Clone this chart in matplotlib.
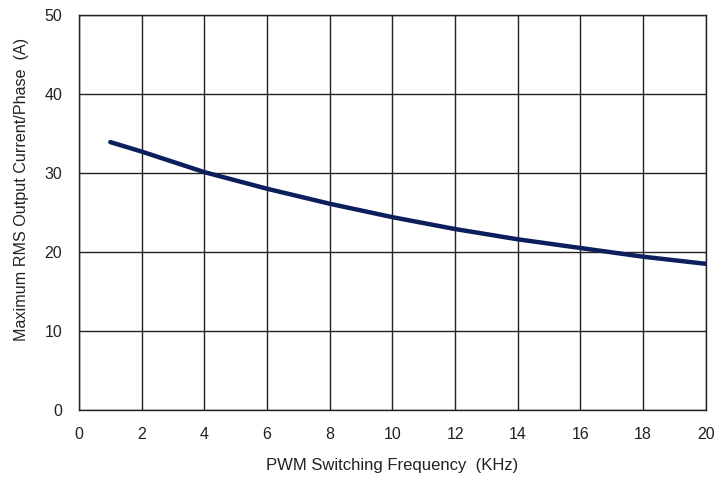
import numpy as np
import matplotlib
matplotlib.use("Agg")
import matplotlib.pyplot as plt

plt.rcParams["font.family"] = ["Liberation Sans", "DejaVu Sans"]

# 读取图上的数据点
freq_khz = [1, 2, 4, 6, 8, 10, 12, 14, 16, 18, 20]
current_a = [33.9, 32.7, 30.1, 28.0, 26.1, 24.4, 22.9, 21.6, 20.5, 19.4, 18.5]

x_ticks = list(range(0, 21, 2))
y_ticks = list(range(0, 51, 10))

fig = plt.figure(figsize=(7.18, 4.79), dpi=100)
ax = fig.add_axes([0.110, 0.144, 0.873, 0.825])

ax.plot(freq_khz, current_a, color="#0a1f5c", lw=3.2, solid_capstyle="round")

ax.set_xlim(0, 20)
ax.set_ylim(0, 50)
ax.set_xticks(x_ticks)
ax.set_yticks(y_ticks)
ax.grid(True, color="#222222", lw=1.0)
ax.set_axisbelow(True)
ax.tick_params(length=0, labelsize=11.5, pad=12, colors="#222222")
for s in ax.spines.values():
    s.set_color("#222222")
    s.set_linewidth(1.0)

ax.set_xlabel("PWM Switching Frequency  (KHz)", fontsize=12, labelpad=12, color="#222222")
ax.set_ylabel("Maximum RMS Output Current/Phase  (A)", fontsize=11.6, color="#222222",
              va="center")
ax.yaxis.set_label_coords(-0.092, 0.557)

fig.savefig("out.png", dpi=100)
